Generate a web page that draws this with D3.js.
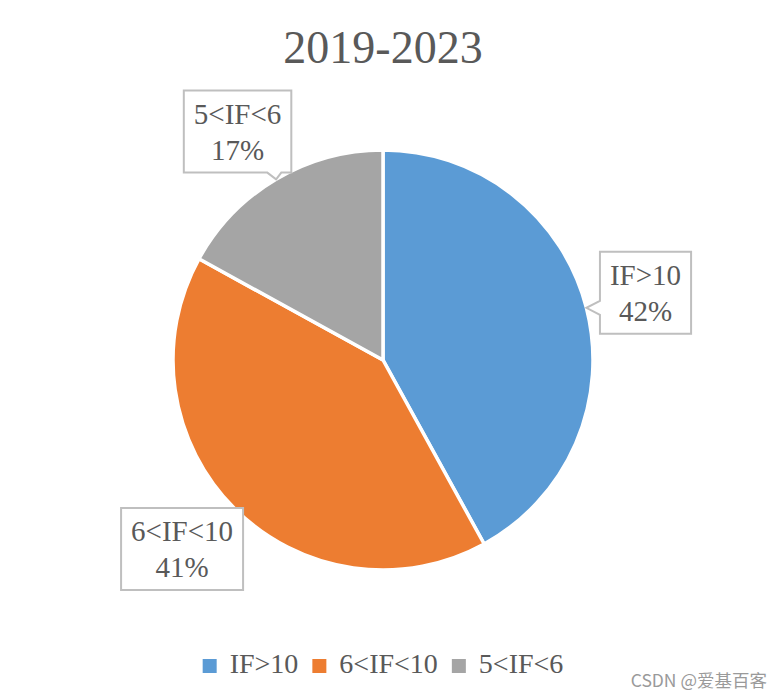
<!DOCTYPE html>
<html><head><meta charset="utf-8">
<script src="https://cdn.jsdelivr.net/npm/d3@7"></script>
<style>body{margin:0;background:#fff}</style>
</head><body><svg id="c" width="780" height="700"></svg>
<script>
const categories = ["IF>10", "6<IF<10", "5<IF<6"];
const values = [42, 41, 17];
const colors = ["#5B9BD5", "#ED7D31", "#A5A5A5"];
const title = "2019-2023";
const watermark = "CSDN @爱基百客";

const W = 780, H = 700, cx = 383, cy = 360, R = 210;
const labelR = 270;
const labelNudge = [[1, 0], [-10, -2], [-8, 4]];
const serif = "'Liberation Serif','Times New Roman',serif";
const textColor = "#595959";

const svg = d3.select("#c");
svg.append("rect").attr("width", W).attr("height", H).attr("fill", "#fff");

svg.append("text").attr("x", cx).attr("y", 63).attr("text-anchor", "middle")
  .attr("font-family", serif).attr("font-size", 46).attr("fill", textColor).text(title);

const total = d3.sum(values);
const arcs = d3.pie().sort(null).value(d => d)(values);
const arc = d3.arc().innerRadius(0).outerRadius(R);
const g = svg.append("g").attr("transform", `translate(${cx},${cy})`);
g.selectAll("path.slice").data(arcs).join("path").attr("class", "slice")
  .attr("d", arc).attr("fill", (d, i) => colors[i])
  .attr("stroke", "#fff").attr("stroke-width", 3.5).attr("stroke-linejoin", "round");

function calloutPath(x0, y0, x1, y1, tx, ty) {
  const hw = 7, m = 10;
  const cl = (v, a, b) => Math.max(a, Math.min(b, v));
  let side = null;
  if (ty > y1) side = "b"; else if (ty < y0) side = "t"; else if (tx < x0) side = "l"; else if (tx > x1) side = "r";
  let p = `M${x0},${y0}`;
  if (side === "t") { const b = cl(tx, x0 + m + hw, x1 - m - hw); p += `H${b - hw}L${tx},${ty}L${b + hw},${y0}`; }
  p += `H${x1}`;
  if (side === "r") { const b = cl(ty, y0 + m + hw, y1 - m - hw); p += `V${b - hw}L${tx},${ty}L${x1},${b + hw}`; }
  p += `V${y1}`;
  if (side === "b") { const b = cl(tx, x0 + m + hw, x1 - m - hw); p += `H${b + hw}L${tx},${ty}L${b - hw},${y1}`; }
  p += `H${x0}`;
  if (side === "l") { const b = cl(ty, y0 + m + hw, y1 - m - hw); p += `V${b + hw}L${tx},${ty}L${x0},${b - hw}`; }
  p += "Z";
  return p;
}

const fmt = d3.format(".0%");
const lab = g.append("g");
arcs.forEach((d, i) => {
  const a = (d.startAngle + d.endAngle) / 2;
  const lx = Math.sin(a) * labelR + labelNudge[i][0];
  const ly = -Math.cos(a) * labelR + labelNudge[i][1];
  const tx = Math.sin(a) * R, ty = -Math.cos(a) * R;
  const grp = lab.append("g");
  const path = grp.append("path");
  const t1 = grp.append("text").attr("x", lx).attr("text-anchor", "middle")
    .attr("font-family", serif).attr("font-size", 29).attr("fill", textColor).text(categories[i]);
  const t2 = grp.append("text").attr("x", lx).attr("text-anchor", "middle")
    .attr("font-family", serif).attr("font-size", 29).attr("fill", textColor).text(fmt(values[i] / total));
  const w = Math.max(t1.node().getComputedTextLength(), t2.node().getComputedTextLength()) + 20;
  const h = 82;
  const x0 = lx - w / 2, y0 = ly - h / 2;
  t1.attr("y", y0 + 33);
  t2.attr("y", y0 + 69);
  path.attr("d", calloutPath(x0, y0, x0 + w, y0 + h, tx, ty))
    .attr("fill", "#fff").attr("stroke", "#BFBFBF").attr("stroke-width", 2);
});

// legend
const leg = svg.append("g");
const sq = 14, gapT = 13, gapI = 14, legY = 673;
let items = categories.map((c, i) => {
  const t = leg.append("text").attr("font-family", serif).attr("font-size", 28)
    .attr("fill", textColor).attr("y", legY).text(c);
  return { t, w: t.node().getComputedTextLength(), i };
});
const totalW = d3.sum(items, d => sq + gapT + d.w) + gapI * (items.length - 1);
let x = cx - totalW / 2;
items.forEach(it => {
  leg.append("rect").attr("x", x).attr("y", legY - 14).attr("width", sq).attr("height", sq).attr("fill", colors[it.i]);
  it.t.attr("x", x + sq + gapT);
  x += sq + gapT + it.w + gapI;
});

svg.append("text").attr("x", 767).attr("y", 687).attr("text-anchor", "end")
  .attr("font-family", "'Noto Sans CJK SC','Noto Sans',sans-serif").attr("font-size", 17.5)
  .attr("fill", "#9a9a9a").text(watermark);
</script></body></html>
